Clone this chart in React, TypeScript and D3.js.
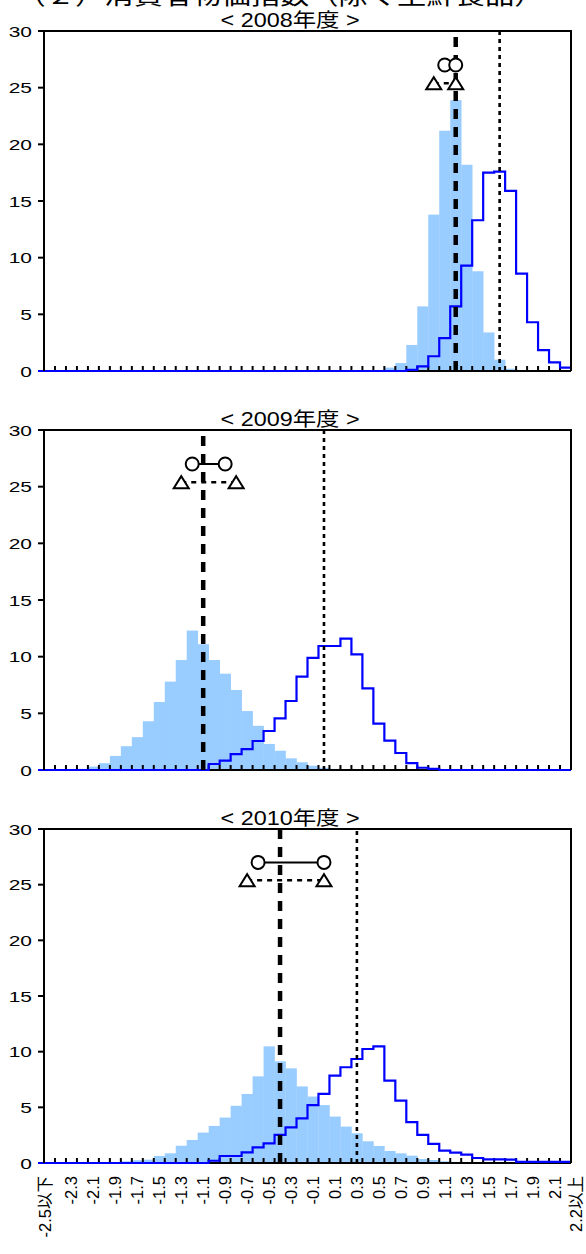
import { useEffect, useRef } from "react";
import * as d3 from "d3";

// categories (bins of 0.1%pt)
const categories = [
  "-2.5以下", "-2.4", "-2.3", "-2.2", "-2.1", "-2.0", "-1.9", "-1.8", "-1.7", "-1.6",
  "-1.5", "-1.4", "-1.3", "-1.2", "-1.1", "-1.0", "-0.9", "-0.8", "-0.7", "-0.6",
  "-0.5", "-0.4", "-0.3", "-0.2", "-0.1", "0.0", "0.1", "0.2", "0.3", "0.4",
  "0.5", "0.6", "0.7", "0.8", "0.9", "1.0", "1.1", "1.2", "1.3", "1.4",
  "1.5", "1.6", "1.7", "1.8", "1.9", "2.0", "2.1", "2.2以上",
];
const yTicks = [0, 5, 10, 15, 20, 25, 30];
const titles = ["< 2008年度 >", "< 2009年度 >", "< 2010年度 >"];

// light blue histogram (%)
const bars2008 = [
  0, 0, 0, 0, 0, 0, 0, 0, 0, 0,
  0, 0, 0, 0, 0, 0, 0, 0, 0, 0,
  0, 0, 0, 0, 0, 0, 0, 0, 0, 0,
  0, 0.3, 0.7, 2.3, 5.7, 13.8, 21.2, 23.9, 18.2, 8.8,
  3.4, 1.0, 0.2, 0, 0, 0, 0, 0,
];
const bars2009 = [
  0, 0, 0, 0.1, 0.3, 0.6, 1.24, 2.1, 2.9, 4.3,
  6.0, 7.8, 9.7, 12.3, 11.1, 9.7, 8.5, 7.06, 5.2, 3.9,
  2.3, 1.7, 1.03, 0.68, 0.38, 0.2, 0.1, 0, 0, 0,
  0, 0, 0, 0, 0, 0, 0, 0, 0, 0,
  0, 0, 0, 0, 0, 0, 0, 0,
];
const bars2010 = [
  0, 0, 0, 0, 0, 0, 0, 0.15, 0.25, 0.3,
  0.63, 0.87, 1.55, 2.07, 2.73, 3.33, 4.08, 5.14, 6.2, 7.78,
  10.48, 9.13, 8.5, 6.88, 5.97, 5.2, 4.17, 3.27, 2.67, 1.95,
  1.53, 1.08, 0.87, 0.66, 0.36, 0.27, 0.15, 0.1, 0, 0,
  0, 0, 0, 0, 0, 0, 0, 0,
];

// blue step line (%)
const line2008 = [
  0, 0, 0, 0, 0, 0, 0, 0, 0, 0,
  0, 0, 0, 0, 0, 0, 0, 0, 0, 0,
  0, 0, 0, 0, 0, 0, 0, 0, 0, 0,
  0, 0, 0, 0.1, 0.4, 1.3, 2.9, 5.7, 9.3, 13.3,
  17.5, 17.6, 15.9, 8.6, 4.3, 1.85, 0.76, 0.3,
];
const line2009 = [
  0, 0, 0, 0, 0, 0, 0, 0, 0, 0,
  0, 0, 0, 0, 0, 0.53, 0.82, 1.4, 1.85, 2.56,
  3.44, 4.56, 6.09, 8.24, 9.9, 10.94, 10.94, 11.6, 10.2, 7.2,
  4.1, 2.6, 1.5, 0.6, 0.2, 0.1, 0, 0, 0, 0,
  0, 0, 0, 0, 0, 0, 0, 0,
];
const line2010 = [
  0, 0, 0, 0, 0, 0, 0, 0, 0, 0,
  0, 0, 0, 0, 0, 0.2, 0.63, 0.63, 0.96, 1.41,
  1.77, 2.52, 3.2, 4.0, 5.2, 6.2, 7.84, 8.6, 9.34, 10.24,
  10.48, 7.4, 5.6, 3.67, 2.52, 1.71, 1.11, 0.93, 0.75, 0.45,
  0.33, 0.33, 0.3, 0.1, 0.1, 0.1, 0.1, 0.1,
];

// vertical reference lines
const medianValues = [1.2, -1.1, -0.4];
const previousValues = [1.6, 0.0, 0.3];
// ranges shown at the top (circles / triangles)
const circleRanges = [[1.1, 1.2], [-1.2, -0.9], [-0.6, 0.0]];
const triangleRanges = [[1.0, 1.2], [-1.3, -0.8], [-0.7, 0.0]];
const circleLevel = 27;
const triangleLevel = 25.4;

const barsByYear = [bars2008, bars2009, bars2010];
const linesByYear = [line2008, line2009, line2010];

const W = 586;
const H = 1254;
const plotLeft = 44;
const plotRight = 571;
const panelTop = [31, 430, 829];
const panelBottom = [371, 770, 1163];
const FONT = "'Liberation Sans', Arial, 'Noto Sans CJK JP', sans-serif";

export default function App() {
  const ref = useRef<SVGSVGElement>(null);

  useEffect(() => {
    const svg = d3.select(ref.current);
    svg.selectAll("*").remove();

    const x = d3.scaleBand().domain(categories).range([plotLeft, plotRight]).padding(0);
    const bw = x.bandwidth();
    const xv = d3.scaleLinear().domain([-2.55, 2.25]).range([plotLeft, plotRight]);

    // heading (cut at top of the picture)
    svg
      .append("text")
      .attr("transform", `translate(280,4) scale(1.22,1)`)
      .attr("text-anchor", "middle")
      .style("font-size", "24px")
      .style("font-family", FONT)
      .text("（２）消費者物価指数（除く生鮮食品）");

    titles.forEach((title, i) => {
      const top = panelTop[i];
      const bottom = panelBottom[i];
      const y = d3.scaleLinear().domain([0, 30]).range([bottom, top]);
      const g = svg.append("g");

      g.append("text")
        .attr("transform", `translate(290,${top - 4}) scale(1.2,1)`)
        .attr("text-anchor", "middle")
        .style("font-size", "19.5px")
        .style("font-family", FONT)
        .text(title);

      // histogram bars
      const barData = barsByYear[i].map((v, k) => ({ c: categories[k], v })).filter((d) => d.v > 0);
      g.selectAll("rect.bar")
        .data(barData)
        .join("rect")
        .attr("class", "bar")
        .attr("x", (d) => x(d.c)!)
        .attr("width", bw + 0.3)
        .attr("y", (d) => y(d.v))
        .attr("height", (d) => y(0) - y(d.v))
        .attr("fill", "#99CCFF");

      // y axis ticks & labels
      yTicks.forEach((t) => {
        g.append("line")
          .attr("x1", plotLeft - 6)
          .attr("x2", plotLeft)
          .attr("y1", y(t))
          .attr("y2", y(t))
          .attr("stroke", "#000")
          .attr("stroke-width", 2);
        g.append("text")
          .attr("transform", `translate(${plotLeft - 12},${y(t) + 5.5}) scale(1.35,1)`)
          .attr("text-anchor", "end")
          .style("font-size", "15.5px")
          .style("font-family", FONT)
          .text(t);
      });

      // x axis line + inner ticks
      g.append("line")
        .attr("x1", plotLeft)
        .attr("x2", plotRight)
        .attr("y1", y(0))
        .attr("y2", y(0))
        .attr("stroke", "#000")
        .attr("stroke-width", 2);
      categories.slice(1).forEach((c) => {
        g.append("line")
          .attr("x1", x(c)!)
          .attr("x2", x(c)!)
          .attr("y1", y(0))
          .attr("y2", y(0) - 5)
          .attr("stroke", "#000")
          .attr("stroke-width", 2);
      });

      // step line
      const pts: [number, number][] = [[plotLeft - 6, y(0)]];
      linesByYear[i].forEach((v, k) => {
        const x0 = x(categories[k])!;
        pts.push([x0, y(v)], [x0 + bw, y(v)]);
      });
      g.append("path")
        .attr("d", d3.line()(pts))
        .attr("fill", "none")
        .attr("stroke", "#0000FF")
        .attr("stroke-width", 2.2);

      // frame (left, top, right)
      g.append("path")
        .attr("d", `M${plotLeft},${y(0)}V${y(30)}H${plotRight}V${y(0)}`)
        .attr("fill", "none")
        .attr("stroke", "#000")
        .attr("stroke-width", 2);

      // range markers
      const [c0, c1] = circleRanges[i];
      const [t0, t1] = triangleRanges[i];
      g.append("line")
        .attr("x1", xv(c0))
        .attr("x2", xv(c1))
        .attr("y1", y(circleLevel))
        .attr("y2", y(circleLevel))
        .attr("stroke", "#000")
        .attr("stroke-width", 2);
      g.append("line")
        .attr("x1", xv(t0))
        .attr("x2", xv(t1))
        .attr("y1", y(triangleLevel))
        .attr("y2", y(triangleLevel))
        .attr("stroke", "#000")
        .attr("stroke-width", 2.5)
        .attr("stroke-dasharray", "5,5");

      // vertical lines (drawn bottom to top)
      g.append("line")
        .attr("x1", xv(previousValues[i]))
        .attr("x2", xv(previousValues[i]))
        .attr("y1", y(0))
        .attr("y2", y(30))
        .attr("stroke", "#000")
        .attr("stroke-width", 2.6)
        .attr("stroke-dasharray", "4,4");
      g.append("line")
        .attr("x1", xv(medianValues[i]))
        .attr("x2", xv(medianValues[i]))
        .attr("y1", y(0))
        .attr("y2", y(30))
        .attr("stroke", "#000")
        .attr("stroke-width", 4.5)
        .attr("stroke-dasharray", "10,8");

      [c0, c1].forEach((v) => {
        g.append("circle")
          .attr("cx", xv(v))
          .attr("cy", y(circleLevel))
          .attr("r", 6.5)
          .attr("fill", "#fff")
          .attr("stroke", "#000")
          .attr("stroke-width", 2);
      });
      [t0, t1].forEach((v) => {
        const cx = xv(v);
        const cy = y(triangleLevel);
        g.append("path")
          .attr("d", `M${cx - 7.5},${cy + 6}L${cx + 7.5},${cy + 6}L${cx},${cy - 6}Z`)
          .attr("fill", "#fff")
          .attr("stroke", "#000")
          .attr("stroke-width", 2)
          .attr("stroke-linejoin", "miter");
      });

      // x labels on the last panel only (every other bin plus the open-ended last bin)
      if (i === titles.length - 1) {
        const last = categories.length - 1;
        categories.forEach((c, k) => {
          if (k % 2 !== 0 && k !== last) return;
          let cx = x(c)! + bw / 2;
          if (k === 0) cx -= bw * 0.4;
          if (k === last) cx += bw;
          g.append("text")
            .attr("transform", `translate(${cx},${y(0) + 13}) rotate(-90)`)
            .attr("text-anchor", "end")
            .attr("dominant-baseline", "central")
            .style("font-size", "16.5px")
            .style("font-family", FONT)
            .text(c);
        });
      }
    });
  }, []);

  return (
    <svg
      ref={ref}
      width={W}
      height={H}
      style={{ position: "absolute", left: 0, top: 0, background: "#fff" }}
    />
  );
}
